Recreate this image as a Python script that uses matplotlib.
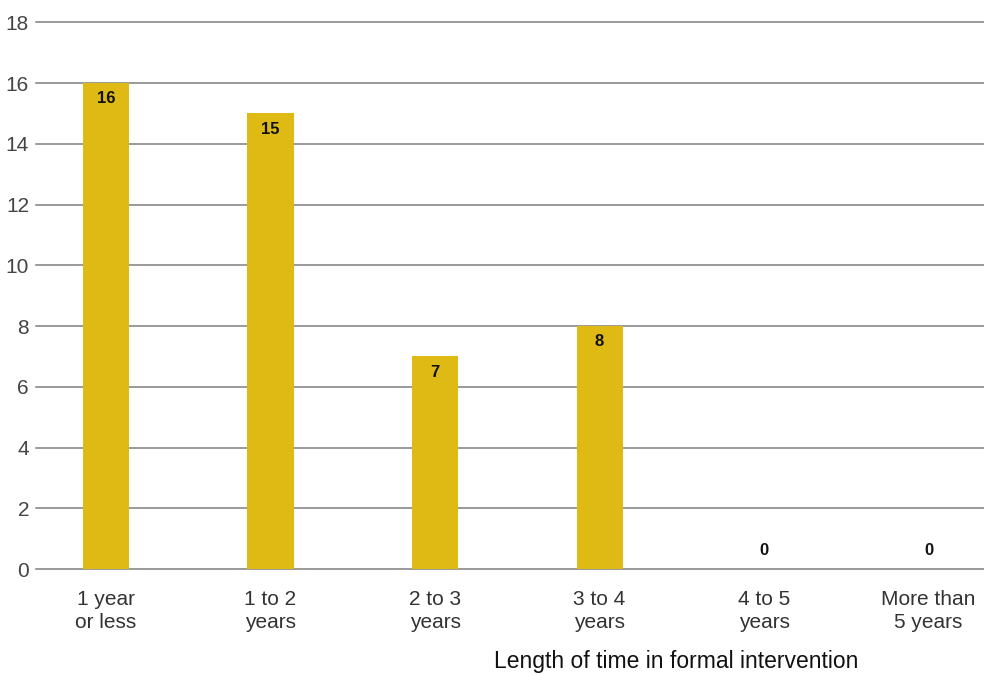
import numpy as np
import matplotlib.pyplot as plt

plt.rcParams['font.family'] = ['Liberation Sans', 'DejaVu Sans']

categories = ["1 year\nor less", "1 to 2\nyears", "2 to 3\nyears",
              "3 to 4\nyears", "4 to 5\nyears", "More than\n5 years"]
counts = [16, 15, 7, 8, 0, 0]

fig = plt.figure(figsize=(9.84, 6.75), dpi=100)
ax = fig.add_axes([0.0366, 0.157, 0.9634, 0.81])

x = np.arange(len(categories))
ax.bar(x, counts, width=0.28, color='#DFBA14', zorder=3)

# value labels: inside the top of tall bars, just above the axis for zeros
for xi, v in zip(x, counts):
    if v > 0:
        ax.text(xi, v - 0.52, str(v), ha='center', va='center',
                fontsize=12, fontweight='bold', color='#111111', zorder=4)
    else:
        ax.text(xi, 0.62, str(v), ha='center', va='center',
                fontsize=12, fontweight='bold', color='#111111', zorder=4)

ax.set_ylim(0, 18)
ax.set_xlim(-0.4255, 5.337)
ax.set_yticks(range(0, 19, 2))
ax.yaxis.grid(True, color='#7f7f7f', linewidth=1.1, zorder=0)
for gl in ax.get_ygridlines():
    gl.set_clip_on(False)
ax.set_xticks(x)
ax.set_xticklabels(categories, fontsize=15, color='#333333', linespacing=1.3)
ax.tick_params(axis='y', labelsize=15, labelcolor='#444444', length=0, pad=5)
ax.tick_params(axis='x', length=0, pad=15)
for s in ax.spines.values():
    s.set_visible(False)

fig.text(0.687, 0.003, "Length of time in formal intervention", ha='center',
         va='bottom', fontsize=16.5, color='#111111')

fig.savefig("out.png", dpi=100)
